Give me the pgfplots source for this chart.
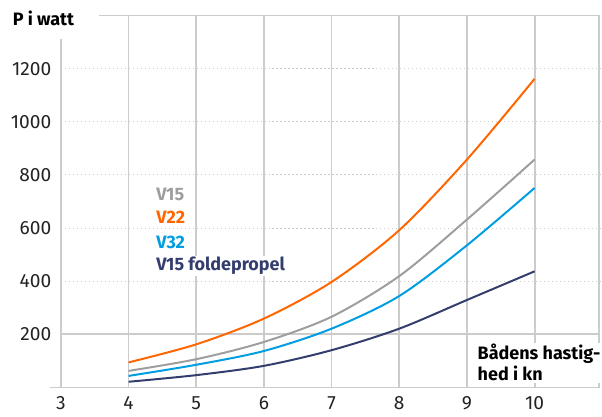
\documentclass[border=0pt]{standalone}
\usepackage{fontspec}
\setmainfont{Fira Sans}
\usepackage{pgfplots}
\pgfplotsset{compat=1.18}

\definecolor{cOrange}{RGB}{255,102,0}
\definecolor{cGray}{RGB}{158,158,158}
\definecolor{cBlue}{RGB}{0,158,224}
\definecolor{cNavy}{RGB}{52,62,110}
\definecolor{cGrid}{RGB}{204,204,204}
\definecolor{cText}{RGB}{35,35,35}

\begin{document}
\begin{tikzpicture}
\begin{axis}[
    x=33.9pt, y=0.133pt,
    xmin=3, xmax=10.97,
    ymin=0, ymax=1400,
    axis line style={draw=none},
    major tick length=0pt,
    xtick={3,...,10},
    ytick={200,400,...,1200},
    /pgf/number format/1000 sep={},
    /pgf/number format/assume math mode=true,
    ticklabel style={font=\fontsize{9.6}{11}\selectfont, text=cText},
    xticklabel style={yshift=-1.2pt},
    yticklabel style={xshift=-1.3pt},
    clip=false,
    every axis plot/.append style={line width=1pt, smooth},
]
% picture extents
\path (axis cs:2.1,-97) rectangle (axis cs:10.979,1459);

% grid and frame
\pgfplotsinvokeforeach{400,600,800,1000,1200}{
  \draw[cGrid, line width=0.5pt, dash pattern=on 0.6pt off 1.4pt] (axis cs:3,#1) -- (axis cs:10.97,#1);
}
\draw[cGrid, line width=0.8pt] (axis cs:3,200) -- (axis cs:10.97,200);
\pgfplotsinvokeforeach{4,5,6,7,8,9,10,10.95}{
  \draw[cGrid, line width=0.9pt] (axis cs:#1,0) -- (axis cs:#1,1400);
}
\draw[cGrid, line width=0.9pt] (axis cs:3,0) -- (axis cs:3,1312);
\draw[cGrid, line width=0.8pt] (axis cs:2.84,0) -- (axis cs:10.97,0);
\draw[cGrid, line width=0.8pt] (axis cs:3.57,1400) -- (axis cs:10.97,1400);

% V22
\addplot[color=cOrange] coordinates {
(4,94) (5,162) (6,259) (7,397) (8,592) (9,858) (10,1162)};
% V15
\addplot[color=cGray] coordinates {
(4,62) (5,106) (6,171) (7,266) (8,419) (9,632) (10,858)};
% V32
\addplot[color=cBlue] coordinates {
(4,43) (5,85) (6,137) (7,221) (8,344) (9,535) (10,751)};
% V15 foldepropel
\addplot[color=cNavy] coordinates {
(4,21) (5,46) (6,81) (7,140) (8,221) (9,329) (10,437)};

% labels
\begin{scope}[every node/.style={anchor=west, fill=white, inner sep=0.8pt,
    font=\fontsize{9}{10.5}\selectfont\bfseries}]
\node[text=cGray] at (axis cs:4.38,726) {V15};
\node[text=cOrange] at (axis cs:4.38,640) {V22};
\node[text=cBlue] at (axis cs:4.38,547) {V32};
\node[text=cNavy] at (axis cs:4.38,457) {V15 foldepropel};
\node[text=black, align=left] at (axis cs:9.13,93) {Bådens hastig-\\hed i kn};
\node[text=black, fill=none] at (axis cs:2.26,1388) {P i watt};
\end{scope}
\end{axis}
\end{tikzpicture}
\end{document}
